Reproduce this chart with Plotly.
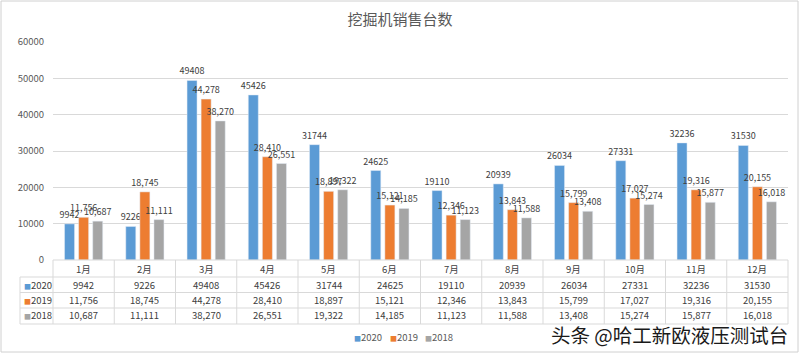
import plotly.graph_objects as go

months = ["1月", "2月", "3月", "4月", "5月", "6月", "7月", "8月", "9月", "10月", "11月", "12月"]
series_names = ["2020", "2019", "2018"]
v2020 = [9942, 9226, 49408, 45426, 31744, 24625, 19110, 20939, 26034, 27331, 32236, 31530]
v2019 = [11756, 18745, 44278, 28410, 18897, 15121, 12346, 13843, 15799, 17027, 19316, 20155]
v2018 = [10687, 11111, 38270, 26551, 19322, 14185, 11123, 11588, 13408, 15274, 15877, 16018]
y_ticks = [0, 10000, 20000, 30000, 40000, 50000, 60000]

colors = ["#5B9BD5", "#ED7D31", "#A5A5A5"]
FONT = "Noto Sans CJK SC, Liberation Sans, sans-serif"

def fmt(v, comma):
    return f"{v:,}" if comma else str(v)

all_vals = [v2020, v2019, v2018]
fig = go.Figure()
for name, vals, col, comma in zip(series_names, all_vals, colors, [False, True, True]):
    fig.add_trace(go.Bar(
        x=months, y=vals, name=name, marker_color=col,
        text=[fmt(v, comma) for v in vals], textposition="outside",
        textangle=0, constraintext="none", cliponaxis=False,
        textfont=dict(size=9, color="#404040", family=FONT),
        showlegend=False,
    ))

# geometry in pixels
L, R, T, B = 53, 788, 42, 260
W, H = R - L, B - T
def xp(px):
    return (px - L) / W
def yp(py):
    return (B - py) / H

shapes = []
line = dict(color="#D9D9D9", width=1)
shapes.append(dict(type="line", xref="paper", yref="paper", x0=0, x1=1, y0=yp(260), y1=yp(260), line=line))
for py in [277, 292.5, 308, 324]:
    shapes.append(dict(type="line", xref="paper", yref="paper", x0=xp(20), x1=1, y0=yp(py), y1=yp(py), line=line))
for k in range(13):
    shapes.append(dict(type="line", xref="paper", yref="paper", x0=k / 12, x1=k / 12, y0=yp(260), y1=yp(324), line=line))
shapes.append(dict(type="line", xref="paper", yref="paper", x0=xp(20), x1=xp(20), y0=yp(277), y1=yp(324), line=line))
shapes.append(dict(type="rect", xref="paper", yref="paper", x0=xp(1), x1=xp(798), y0=yp(1), y1=yp(352),
                   line=dict(color="#D0D0D0", width=1)))

annotations = []
row_y = [284.5, 300, 315.5]
tfont = dict(size=9.5, color="#404040", family=FONT)
for i, m in enumerate(months):
    annotations.append(dict(x=m, xref="x", y=yp(268.5), yref="paper", text=m, showarrow=False, font=tfont,
                            xanchor="center", yanchor="middle"))
    for r, (vals, comma) in enumerate(zip(all_vals, [False, True, True])):
        annotations.append(dict(x=m, xref="x", y=yp(row_y[r]), yref="paper", text=fmt(vals[i], comma),
                                showarrow=False, font=tfont, xanchor="center", yanchor="middle"))
for r, (name, col) in enumerate(zip(series_names, colors)):
    annotations.append(dict(x=xp(22), xref="paper", y=yp(row_y[r]), yref="paper", xanchor="left",
                            yanchor="middle",
                            text=f"<span style='color:{col};font-size:7px'>■</span>{name}",
                            showarrow=False, font=tfont))
for px, name, col in zip([352, 388, 423], series_names, colors):
    annotations.append(dict(x=xp(px), xref="paper", y=yp(337), yref="paper", xanchor="left",
                            yanchor="middle",
                            text=f"<span style='color:{col};font-size:7px'>■</span>{name}",
                            showarrow=False, font=dict(size=9.5, color="#595959", family=FONT)))
annotations.append(dict(x=xp(790), xref="paper", y=yp(334), yref="paper", xanchor="right", yanchor="middle",
                        text="头条 @哈工新欧液压测试台", showarrow=False,
                        font=dict(size=19.5, color="#1a1a1a", family=FONT,
                                  shadow="1px 1px 1px white, -1px -1px 1px white, 1px -1px 1px white, -1px 1px 1px white")))

fig.update_layout(
    width=800, height=355,
    margin=dict(l=L, r=800 - R, t=T, b=355 - B),
    paper_bgcolor="white", plot_bgcolor="white",
    title=dict(text="挖掘机销售台数", x=0.5, xanchor="center", y=1 - 20 / 355, yanchor="middle",
               font=dict(size=15, color="#595959", family=FONT)),
    barmode="group", bargap=0.31, bargroupgap=0.29,
    xaxis=dict(showticklabels=False, showgrid=False, ticks="", showline=False),
    yaxis=dict(range=[0, 60000], tickvals=y_ticks, ticktext=[str(v) for v in y_ticks],
               showgrid=True, gridcolor="#D9D9D9", gridwidth=1, zeroline=False,
               tickfont=dict(size=9.5, color="#595959", family=FONT), ticks="", ticklabelstandoff=8),
    shapes=shapes, annotations=annotations,
    font=dict(family=FONT),
)

fig.write_html("out.html", config={"displayModeBar": False},
               post_script="document.body.style.margin='0';")
